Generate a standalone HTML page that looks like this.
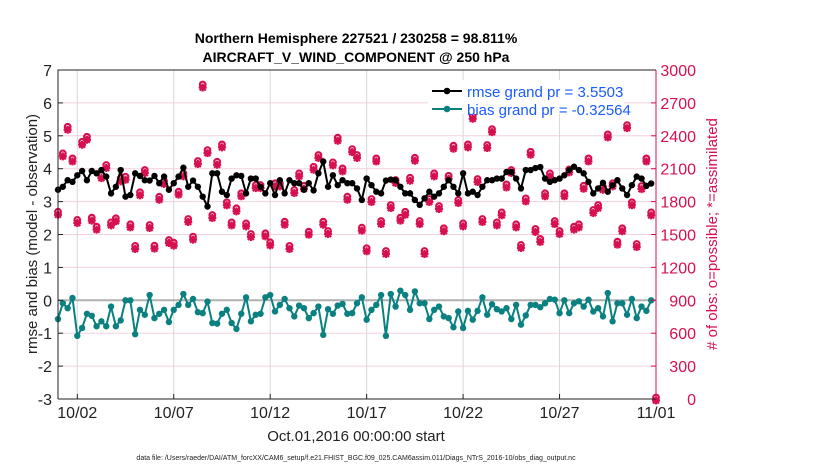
<!DOCTYPE html>
<html><head><meta charset="utf-8"><style>
body{margin:0;background:#fff;}
svg{display:block;font-family:"Liberation Sans",sans-serif;}
</style></head><body>
<svg id="chart" width="830" height="470" viewBox="0 0 830 470">
<rect width="830" height="470" fill="#fff"/>
<text x="356" y="43" text-anchor="middle" font-size="14" font-weight="bold">Northern Hemisphere 227521 / 230258 = 98.811%</text>
<text x="356" y="62" text-anchor="middle" font-size="14" font-weight="bold">AIRCRAFT_V_WIND_COMPONENT @ 250 hPa</text>
<g id="grid"></g>
<g id="marks"></g>
<g id="axes"></g>
<text transform="translate(37,234) rotate(-90)" text-anchor="middle" font-size="15" fill="#222">rmse and bias (model - observation)</text>
<text transform="translate(717,234) rotate(-90)" text-anchor="middle" font-size="15" fill="#d6104f"># of obs: o=possible; *=assimilated</text>
<text x="356" y="441" text-anchor="middle" font-size="15" fill="#222">Oct.01,2016 00:00:00 start</text>
<text x="356" y="460" text-anchor="middle" font-size="7" fill="#222">data file: /Users/raeder/DAI/ATM_forcXX/CAM6_setup/f.e21.FHIST_BGC.f09_025.CAM6assim.011/Diags_NTrS_2016-10/obs_diag_output.nc</text>
<g>
<rect x="428" y="80" width="196" height="34" fill="#fff"/>
<line x1="432" y1="91" x2="462" y2="91" stroke="#000" stroke-width="2"/><circle cx="447" cy="91" r="3.3" fill="#000"/>
<text x="467" y="97" font-size="15" fill="#1a5cff">rmse grand pr = 3.5503</text>
<line x1="432" y1="109" x2="462" y2="109" stroke="#0a8080" stroke-width="2"/><circle cx="447" cy="109" r="3.3" fill="#0a8080"/>
<text x="467" y="115" font-size="15" fill="#1a5cff">bias grand pr = -0.32564</text>
</g>
</svg>
<script>
const rmse=[3.36,3.45,3.65,3.6,3.8,3.93,3.65,3.93,3.86,3.96,3.76,3.25,3.45,3.96,3.15,3.2,3.86,3.78,3.65,3.64,3.78,3.56,3.76,3.36,3.56,3.76,4.03,3.45,3.64,3.45,3.15,2.85,3.86,3.86,3.3,3.2,3.7,3.8,3.78,3.25,3.7,3.7,
3.45,3.25,3.56,3.2,3.65,3.25,3.65,3.56,3.56,3.36,3.56,3.34,3.86,4.22,3.45,3.8,3.5,3.65,3.56,3.56,3.4,3.05,3.7,3.5,3.3,3.25,3.64,3.67,3.65,3.45,3.25,3.25,3.05,2.9,3.1,3.3,3.15,3.25,3.45,3.65,3.45,3.25,
3.86,3.25,3.3,3.2,3.45,3.65,3.65,3.7,3.7,3.9,3.9,3.7,3.4,3.96,3.96,4.02,4.05,3.7,3.6,3.65,3.7,3.8,3.96,4.06,3.96,3.86,3.6,3.25,3.4,3.57,3.3,3.5,3.65,3.4,3.2,3.5,3.76,3.7,3.48,3.55];
const bias=[-0.57,-0.09,-0.24,0.07,-1.08,-0.84,-0.41,-0.47,-0.79,-0.64,-0.79,-0.19,-0.79,-0.61,0,0,-1.03,-0.29,-0.44,0.16,-0.54,-0.41,-0.29,-0.66,-0.29,-0.14,0.19,-0.14,0.04,-0.36,-0.39,-0.04,-0.69,-0.71,-0.41,-0.29,-0.69,-0.87,-0.41,0.09,-0.64,-0.44,
-0.41,0.09,0.16,-0.34,-0.14,0.04,-0.24,-0.49,-0.16,-0.24,-0.54,-0.39,-0.19,-1.05,-0.27,-0.41,-0.16,-0.11,-0.41,-0.39,-0.09,0.09,-0.59,-0.29,-0.14,0.16,-1.08,0.19,-0.19,0.29,0.16,-0.29,0.27,-0.09,-0.09,-0.57,-0.29,-0.19,-0.49,-0.54,-0.82,-0.34,
-0.84,-0.32,-0.59,-0.32,0.09,-0.44,-0.12,-0.27,-0.34,-0.24,-0.57,-0.14,-0.74,-0.46,-0.14,-0.14,-0.21,-0.09,0.04,0.02,-0.39,0,-0.39,-0.09,-0.03,-0.19,0.02,-0.34,-0.24,-0.49,0.22,-0.64,-0.09,-0.09,-0.44,0.04,-0.54,-0.19,-0.32,0];
const obsCount=[1694,2226,2469,2180,1619,2332,2378,1640,1558,2028,2120,1597,1634,1998,2013,1579,1382,1871,2074,1573,1385,1831,1974,1436,1412,1877,2044,1628,1467,2156,2854,2256,1664,2150,2308,1780,1597,1725,1862,1588,1491,1937,
1937,1497,1415,1953,1953,1603,1382,1892,2044,1931,1512,2104,2211,1603,1518,2144,2369,2089,1831,2265,2211,1549,1361,1810,2180,1609,1336,1755,1983,1640,1694,2004,2186,1609,1336,1810,2044,1746,1543,2022,2296,1801,
1588,2308,2569,1992,1628,2302,2447,1597,1688,1943,2074,1579,1391,1816,2241,1537,1446,1862,2044,1609,1518,1862,2080,1558,1579,1931,2180,1710,1755,1922,2399,1953,1421,1543,2484,1780,1400,1928,2180,1688,0];
const leftTicks=[-3,-2,-1,0,1,2,3,4,5,6,7];
const rightTicks=[0,300,600,900,1200,1500,1800,2100,2400,2700,3000];
const xTickDays=[1,6,11,16,21,26,31];
const xTickLabels=["10/02","10/07","10/12","10/17","10/22","10/27","11/01"];

const L=58,R=656,T=70,B=399;
const NS="http://www.w3.org/2000/svg";
const xs=d=>L+(d/31)*(R-L);
const yl=v=>B-(v+3)/10*(B-T);
const yr=c=>B-c/3000*(B-T);
const grid=document.getElementById('grid'),marks=document.getElementById('marks'),axes=document.getElementById('axes');
function mk(tag,attrs,parent){const e=document.createElementNS(NS,tag);for(const k in attrs)e.setAttribute(k,attrs[k]);parent.appendChild(e);return e;}

leftTicks.forEach(v=>{
  const y=yl(v);
  if(v!==-3&&v!==7){const g=mk('line',{x1:L,x2:R,y1:y,y2:y,stroke:'#f3cfe0','stroke-width':1},grid);
  
  }
  const t=mk('line',{x1:L,x2:L+5,y1:y,y2:y,stroke:'#222'},axes);
  
  
  const tx=mk('text',{x:L-6,y:y+6,'text-anchor':'end','font-size':16,fill:'#222'},axes);
  tx.textContent=v;
  
  
});
rightTicks.forEach(c=>{
  const y=yr(c);
  const t=mk('line',{x1:R-5,x2:R,y1:y,y2:y,stroke:'#d6104f'},axes);
  
  
  const tx=mk('text',{x:696,y:y+6,'text-anchor':'end','font-size':16,fill:'#d6104f'},axes);
  tx.textContent=c;
  
  
});
xTickDays.forEach((d,i)=>{
  const x=xs(d);
  if(d<31){const g=mk('line',{x1:x,x2:x,y1:T,y2:B,stroke:'#d8d8d8'},grid);
  
  }
  const t=mk('line',{x1:x,x2:x,y1:B-5,y2:B,stroke:'#222'},axes);
  
  
  const tx=mk('text',{x:x,y:418,'text-anchor':'middle','font-size':16,fill:'#222'},axes);
  tx.textContent=xTickLabels[i];
  
  
});
const zl=mk('line',{x1:L,x2:R,y1:yl(0),y2:yl(0),stroke:'#b0b0b0','stroke-width':2},grid);



obsCount.forEach((c,i)=>{
  const x=xs(i/4),y=yr(c);
  const g=mk('g',{},marks);
  
  
  mk('circle',{cx:x,cy:y-1.5,r:2.8,fill:'none',stroke:'#d6104f','stroke-width':2.2},g);
  const yy=y+1.5;
  mk('path',{d:`M${x-4} ${yy}H${x+4}M${x} ${yy-4}V${yy+4}M${x-3} ${yy-3}L${x+3} ${yy+3}M${x-3} ${yy+3}L${x+3} ${yy-3}`,stroke:'#d6104f','stroke-width':2.2},g);
});
function series(arr,color,name){
  const pts=arr.map((v,i)=>xs(i/4).toFixed(1)+','+yl(v).toFixed(1)).join(' ');
  const p=mk('polyline',{points:pts,fill:'none',stroke:color,'stroke-width':2},marks);
  
  
  arr.forEach((v,i)=>{
    const c=mk('circle',{cx:xs(i/4),cy:yl(v),r:3.2,fill:color},marks);
    
    
  });
}
series(bias,'#0a8080','bias');
series(rmse,'#000','rmse');

const fr=mk('path',{d:`M${L} ${B}V${T}H${R}`,fill:'none',stroke:'#222','stroke-width':1},axes);


const bx=mk('line',{x1:L,x2:R,y1:B,y2:B,stroke:'#222'},axes);


const ra=mk('line',{x1:R,x2:R,y1:T,y2:B,stroke:'#d6104f'},axes);


</script>
</body></html>
